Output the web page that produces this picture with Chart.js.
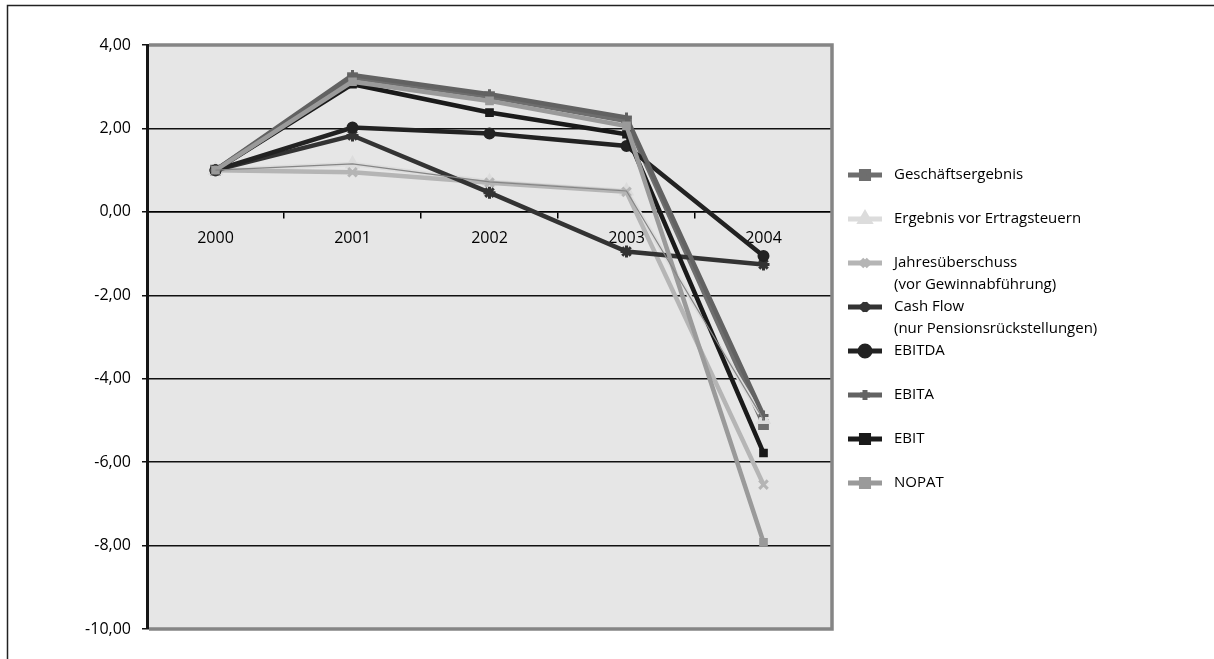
<!DOCTYPE html>
<html lang="de">
<head>
<meta charset="utf-8">
<title>Kennzahlenentwicklung 2000-2004</title>
<script src="https://cdn.jsdelivr.net/npm/chart.js@4"></script>
<style>
  html, body { margin: 0; padding: 0; background: #fff; }
  #wrap { position: relative; width: 1214px; height: 659px; }
</style>
</head>
<body>
<div id="wrap"><canvas id="kennzahlenChart"></canvas></div>
<script>
// Jahre und Kennzahlen (indexiert, 2000 = 1,00)
const years = ["2000", "2001", "2002", "2003", "2004"];
const geschaeftsergebnis = [1.0, 3.22, 2.76, 2.18, -5.10];
const ergebnisVorSteuern = [1.0, 1.15, 0.72, 0.50, -4.98];
const jahresueberschuss = [1.0, 0.95, 0.70, 0.48, -6.54];
const cashFlow = [1.0, 1.83, 0.46, -0.95, -1.26];
const ebitda = [1.0, 2.02, 1.88, 1.58, -1.06];
const ebita = [1.0, 3.28, 2.82, 2.26, -4.88];
const ebit = [1.0, 3.06, 2.38, 1.86, -5.78];
const nopat = [1.0, 3.12, 2.66, 2.06, -7.92];

// Achse
const yMin = -10;
const yMax = 4;
const yStep = 2;

const legendLabels = [
  ["Geschäftsergebnis"],
  ["Ergebnis vor Ertragsteuern"],
  ["Jahresüberschuss", "(vor Gewinnabführung)"],
  ["Cash Flow", "(nur Pensionsrückstellungen)"],
  ["EBITDA"],
  ["EBITA"],
  ["EBIT"],
  ["NOPAT"]
];

Chart.defaults.font.family = '"Open Sans", "DejaVu Sans", sans-serif';
Chart.defaults.font.size = 16;
Chart.defaults.color = "#000";

function series(label, data, color, pointStyle, radius, order) {
  return {
    label: label,
    data: data,
    borderColor: color,
    backgroundColor: color,
    pointBackgroundColor: color,
    pointBorderColor: color,
    borderWidth: 4.5,
    pointStyle: pointStyle,
    pointRadius: radius,
    pointBorderWidth: 3,
    tension: 0,
    order: order
  };
}

const datasets = [
  series("Geschäftsergebnis", geschaeftsergebnis, "#6e6e6e", "rect", 5.5, 8),
  series("Ergebnis vor Ertragsteuern", ergebnisVorSteuern, "#dcdcdc", "triangle", 6, 7),
  series("Jahresüberschuss", jahresueberschuss, "#b5b5b5", "crossRot", 6, 6),
  series("Cash Flow", cashFlow, "#333333", "star", 6, 5),
  series("EBITDA", ebitda, "#222222", "circle", 5, 4),
  series("EBITA", ebita, "#626262", "cross", 5, 3),
  series("EBIT", ebit, "#1a1a1a", "rect", 4, 2),
  series("NOPAT", nopat, "#9a9a9a", "rect", 4, 1)
];
datasets[4].pointBorderWidth = 2;

// feine Kontur über der hellen Linie "Ergebnis vor Ertragsteuern"
datasets.push({
  label: "_kontur",
  data: ergebnisVorSteuern,
  borderColor: "#858585",
  borderWidth: 1.2,
  pointRadius: 0,
  tension: 0,
  order: 0
});

// Hintergrund und grauer Rahmen der Zeichenfläche, Außenrahmen
const plotFrame = {
  id: "plotFrame",
  beforeDraw(chart) {
    const { ctx, chartArea: a } = chart;
    ctx.save();
    ctx.fillStyle = "#e6e6e6";
    ctx.fillRect(a.left, a.top, a.right - a.left, a.bottom - a.top);
    ctx.strokeStyle = "#222";
    ctx.lineWidth = 1.5;
    ctx.beginPath();
    ctx.moveTo(7.5, chart.height);
    ctx.lineTo(7.5, 5.5);
    ctx.lineTo(chart.width, 5.5);
    ctx.stroke();
    ctx.restore();
  },
  beforeDatasetsDraw(chart) {
    const { ctx, chartArea: a } = chart;
    ctx.save();
    ctx.strokeStyle = "#858585";
    ctx.lineWidth = 3.5;
    ctx.beginPath();
    ctx.moveTo(a.left + 2, a.top);
    ctx.lineTo(a.right, a.top);
    ctx.lineTo(a.right, a.bottom);
    ctx.lineTo(a.left + 2, a.bottom);
    ctx.stroke();
    ctx.restore();
  }
};

// Legende rechts, mehrzeilige Einträge
const sideLegend = {
  id: "sideLegend",
  afterDraw(chart) {
    const ctx = chart.ctx;
    ctx.save();
    ctx.font = '15px "Open Sans", sans-serif';
    ctx.textBaseline = "middle";
    legendLabels.forEach((lines, i) => {
      const ds = chart.data.datasets[i];
      const y = 175 + i * 44;
      ctx.strokeStyle = ds.borderColor;
      ctx.lineWidth = 5;
      ctx.beginPath();
      ctx.moveTo(848, y);
      ctx.lineTo(882, y);
      ctx.stroke();
      ctx.fillStyle = ds.pointBackgroundColor;
      ctx.strokeStyle = ds.pointBorderColor;
      Chart.helpers.drawPoint(ctx, {
        pointStyle: ds.pointStyle,
        radius: 5,
        borderWidth: 3,
        rotation: 0
      }, 865, y);
      ctx.fillStyle = "#000";
      lines.forEach((t, j) => ctx.fillText(t, 894, y + j * 22));
    });
    ctx.restore();
  }
};

const ctx = document.getElementById("kennzahlenChart").getContext("2d");
new Chart(ctx, {
  type: "line",
  data: { labels: years, datasets: datasets },
  options: {
    responsive: true,
    maintainAspectRatio: false,
    animation: false,
    layout: { padding: { left: 0, top: 45, right: 382, bottom: 30 } },
    plugins: {
      legend: { display: false },
      tooltip: { enabled: false }
    },
    scales: {
      x: {
        position: { y: 0 },
        offset: true,
        grid: {
          offset: true,
          drawOnChartArea: false,
          drawTicks: true,
          tickLength: 6,
          color: "#000",
          lineWidth: 1.5
        },
        border: { display: true, color: "#000", width: 1.5 },
        ticks: { padding: 11, color: "#000", font: { size: 16 } }
      },
      y: {
        min: yMin,
        max: yMax,
        afterFit(scale) { scale.width = 147; },
        ticks: {
          stepSize: yStep,
          padding: 11,
          color: "#000",
          font: { size: 16 },
          callback: v => v.toFixed(2).replace(".", ",")
        },
        grid: {
          color: c => (c.tick && c.tick.value > yMin && c.tick.value < yMax) ? "#111" : "rgba(0,0,0,0)",
          tickColor: "#111",
          tickLength: 5,
          lineWidth: 1.5
        },
        border: { display: true, color: "#151515", width: 3 }
      }
    }
  },
  plugins: [plotFrame, sideLegend]
});
</script>
</body>
</html>
